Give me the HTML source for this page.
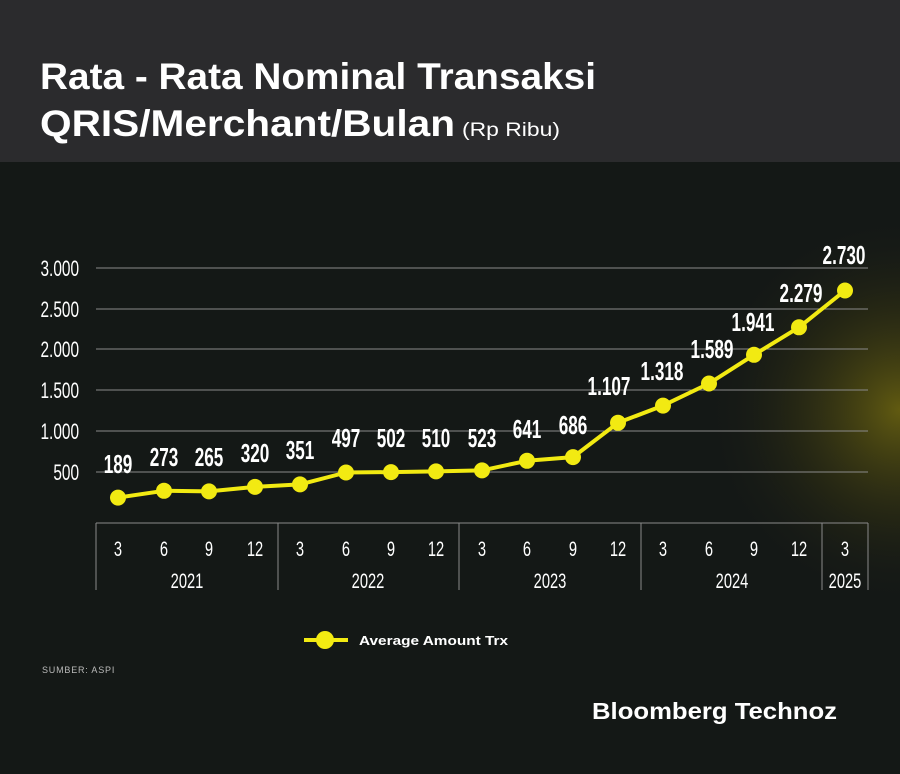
<!DOCTYPE html>
<html><head><meta charset="utf-8"><style>
body{margin:0;background:#141816;}
svg{display:block}
.n{font-family:"Liberation Sans",sans-serif;}
</style></head><body>
<svg width="900" height="774" viewBox="0 0 900 774" xmlns="http://www.w3.org/2000/svg">
<defs>
<radialGradient id="g" cx="900" cy="410" r="200" gradientUnits="userSpaceOnUse">
<stop offset="0" stop-color="#6a6210" stop-opacity="0.9"/>
<stop offset="0.5" stop-color="#3a3812" stop-opacity="0.5"/>
<stop offset="1" stop-color="#141816" stop-opacity="0"/>
</radialGradient>
</defs>
<rect width="900" height="774" fill="#141816"/>
<rect x="600" y="160" width="300" height="500" fill="url(#g)"/>
<rect width="900" height="162" fill="#2b2b2d"/>
<text x="40" y="89" fill="#fff" font-family="Liberation Sans,sans-serif" font-weight="bold" font-size="37" textLength="556" lengthAdjust="spacingAndGlyphs">Rata - Rata Nominal Transaksi</text>
<text x="40" y="136" fill="#fff" font-family="Liberation Sans,sans-serif" font-weight="bold" font-size="37" textLength="415" lengthAdjust="spacingAndGlyphs">QRIS/Merchant/Bulan</text>
<text x="462" y="136" fill="#fff" font-family="Liberation Sans,sans-serif" font-size="19" textLength="98" lengthAdjust="spacingAndGlyphs">(Rp Ribu)</text>
<g stroke="#8a8a8a" stroke-width="1">
<line x1="96" y1="268" x2="868" y2="268"/><line x1="96" y1="309" x2="868" y2="309"/>
<line x1="96" y1="349" x2="868" y2="349"/><line x1="96" y1="390" x2="868" y2="390"/>
<line x1="96" y1="431" x2="868" y2="431"/><line x1="96" y1="472" x2="868" y2="472"/>
<line x1="96" y1="523" x2="868" y2="523"/>
<line x1="96" y1="523" x2="96" y2="590"/><line x1="278" y1="523" x2="278" y2="590"/>
<line x1="459" y1="523" x2="459" y2="590"/><line x1="641" y1="523" x2="641" y2="590"/>
<line x1="822" y1="523" x2="822" y2="590"/><line x1="868" y1="523" x2="868" y2="590"/>
</g>
<g class="n" fill="#fff" font-size="22" text-anchor="end">
<text transform="translate(79,276) scale(0.7,1)">3.000</text>
<text transform="translate(79,317) scale(0.7,1)">2.500</text>
<text transform="translate(79,357) scale(0.7,1)">2.000</text>
<text transform="translate(79,398) scale(0.7,1)">1.500</text>
<text transform="translate(79,439) scale(0.7,1)">1.000</text>
<text transform="translate(79,480) scale(0.7,1)">500</text>
</g>
<g class="n" fill="#fff" font-size="21" text-anchor="middle">
<text transform="translate(118,556) scale(0.7,1)">3</text><text transform="translate(164,556) scale(0.7,1)">6</text>
<text transform="translate(209,556) scale(0.7,1)">9</text><text transform="translate(255,556) scale(0.7,1)">12</text>
<text transform="translate(300,556) scale(0.7,1)">3</text><text transform="translate(346,556) scale(0.7,1)">6</text>
<text transform="translate(391,556) scale(0.7,1)">9</text><text transform="translate(436,556) scale(0.7,1)">12</text>
<text transform="translate(482,556) scale(0.7,1)">3</text><text transform="translate(527,556) scale(0.7,1)">6</text>
<text transform="translate(573,556) scale(0.7,1)">9</text><text transform="translate(618,556) scale(0.7,1)">12</text>
<text transform="translate(663,556) scale(0.7,1)">3</text><text transform="translate(709,556) scale(0.7,1)">6</text>
<text transform="translate(754,556) scale(0.7,1)">9</text><text transform="translate(799,556) scale(0.7,1)">12</text>
<text transform="translate(845,556) scale(0.7,1)">3</text>
<text transform="translate(187,588) scale(0.7,1)">2021</text><text transform="translate(368,588) scale(0.7,1)">2022</text>
<text transform="translate(550,588) scale(0.7,1)">2023</text><text transform="translate(732,588) scale(0.7,1)">2024</text>
<text transform="translate(845,588) scale(0.7,1)">2025</text>
</g>
<polyline fill="none" stroke="#f2ea12" stroke-width="4" stroke-linejoin="round" points="118,497.6 164,490.8 209,491.4 255,486.9 300,484.4 346,472.5 391,472.1 436,471.4 482,470.4 527,460.8 573,457.1 618,422.8 663,405.6 709,383.5 754,354.8 799,327.3 845,290.5"/>
<g fill="#f2ea12">
<circle cx="118" cy="497.6" r="8"/><circle cx="164" cy="490.8" r="8"/><circle cx="209" cy="491.4" r="8"/><circle cx="255" cy="486.9" r="8"/>
<circle cx="300" cy="484.4" r="8"/><circle cx="346" cy="472.5" r="8"/><circle cx="391" cy="472.1" r="8"/><circle cx="436" cy="471.4" r="8"/>
<circle cx="482" cy="470.4" r="8"/><circle cx="527" cy="460.8" r="8"/><circle cx="573" cy="457.1" r="8"/><circle cx="618" cy="422.8" r="8"/>
<circle cx="663" cy="405.6" r="8"/><circle cx="709" cy="383.5" r="8"/><circle cx="754" cy="354.8" r="8"/><circle cx="799" cy="327.3" r="8"/>
<circle cx="845" cy="290.5" r="8"/>
</g>
<g class="n" fill="#fff" font-size="26" font-weight="bold" text-anchor="middle">
<text transform="translate(118,473) scale(0.66,1)">189</text><text transform="translate(164,466) scale(0.66,1)">273</text>
<text transform="translate(209,466) scale(0.66,1)">265</text><text transform="translate(255,462) scale(0.66,1)">320</text>
<text transform="translate(300,459) scale(0.66,1)">351</text><text transform="translate(346,447) scale(0.66,1)">497</text>
<text transform="translate(391,447) scale(0.66,1)">502</text><text transform="translate(436,447) scale(0.66,1)">510</text>
<text transform="translate(482,447) scale(0.66,1)">523</text><text transform="translate(527,438) scale(0.66,1)">641</text>
<text transform="translate(573,434) scale(0.66,1)">686</text><text transform="translate(609,395) scale(0.66,1)">1.107</text>
<text transform="translate(662,380) scale(0.66,1)">1.318</text><text transform="translate(712,358) scale(0.66,1)">1.589</text>
<text transform="translate(753,331) scale(0.66,1)">1.941</text><text transform="translate(801,302) scale(0.66,1)">2.279</text>
<text transform="translate(844,264) scale(0.66,1)">2.730</text>
</g>
<line x1="304" y1="640" x2="348" y2="640" stroke="#f2ea12" stroke-width="4"/>
<circle cx="325" cy="640" r="9" fill="#f2ea12"/>
<text x="359" y="645" fill="#fff" font-family="Liberation Sans,sans-serif" font-weight="bold" font-size="13" textLength="149" lengthAdjust="spacingAndGlyphs">Average Amount Trx</text>
<text x="42" y="673" fill="#bbb" font-family="Liberation Sans,sans-serif" font-size="9" letter-spacing="0.8">SUMBER: ASPI</text>
<text x="592" y="719" fill="#fff" font-family="Liberation Sans,sans-serif" font-weight="bold" font-size="23" textLength="245" lengthAdjust="spacingAndGlyphs">Bloomberg Technoz</text>
</svg>
</body></html>
